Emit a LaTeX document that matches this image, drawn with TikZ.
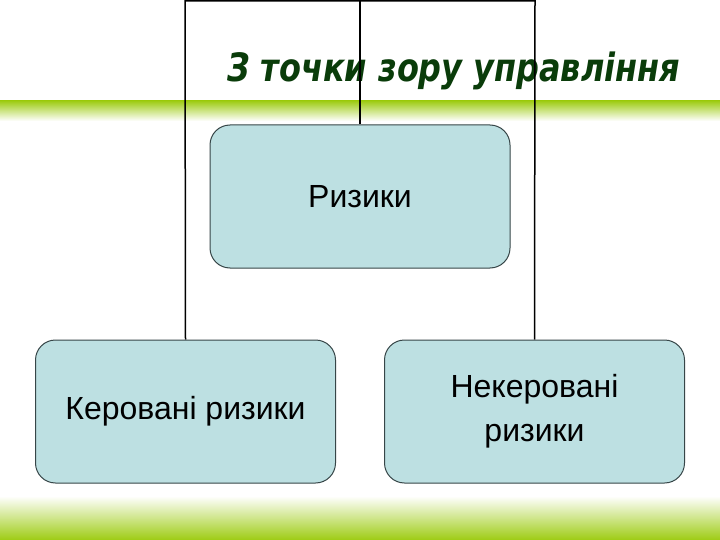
\documentclass[tikz,border=0pt]{standalone}
\usepackage{fontspec}
\setmainfont{Liberation Sans}
\newfontfamily\titlefont{DejaVu Sans Condensed}
\usetikzlibrary{backgrounds}
\definecolor{barGreen}{RGB}{158,204,20}
\definecolor{titleGreen}{RGB}{10,60,10}
\definecolor{boxFill}{RGB}{189,224,226}
\definecolor{boxLine}{RGB}{55,70,72}

\begin{document}
\begin{tikzpicture}[x=1pt,y=-1pt,
    riskbox/.style={draw=boxLine, line width=1pt, fill=boxFill, rounded corners=20pt,
      minimum width=300pt, minimum height=143pt, align=center,
      font=\fontsize{32}{44}\selectfont},
    frameline/.style={line width=1.5pt}]
        \useasboundingbox (0,0) rectangle (720,540);
        % boxes
        \node[riskbox] (ryzyky) at (360,196.5) {Ризики};
        \node[riskbox] (kerovani) at (185.5,411.5) {Керовані ризики};
        \node[riskbox] (nekerovani) at (534.5,411.5) {Некеровані\\ризики};
        \begin{scope}[on background layer]
        \fill[white] (0,0) rectangle (720,540);
        % green bars
        \shade[top color=barGreen, bottom color=white] (0,101) rectangle (720,121);
        \shade[top color=white, bottom color=barGreen] (0,496) rectangle (720,540);
        % title
        \node[anchor=base west, text=titleGreen, inner sep=0pt,
          font=\titlefont\bfseries\itshape\fontsize{39}{46}\selectfont] (title) at (227,82)
          {\scalebox{0.91}[1]{З точки зору управління}};
        % frame
        \coordinate (topLeft) at (185,1);
        \coordinate (topMid) at (360,1);
        \coordinate (topRight) at (535,1);
        \draw[frameline] (kerovani.north) -- (topLeft) -- (topRight) -- (nekerovani.north);
        \draw[frameline] (ryzyky.north) -- (topMid);
        \end{scope}
\end{tikzpicture}
\end{document}
